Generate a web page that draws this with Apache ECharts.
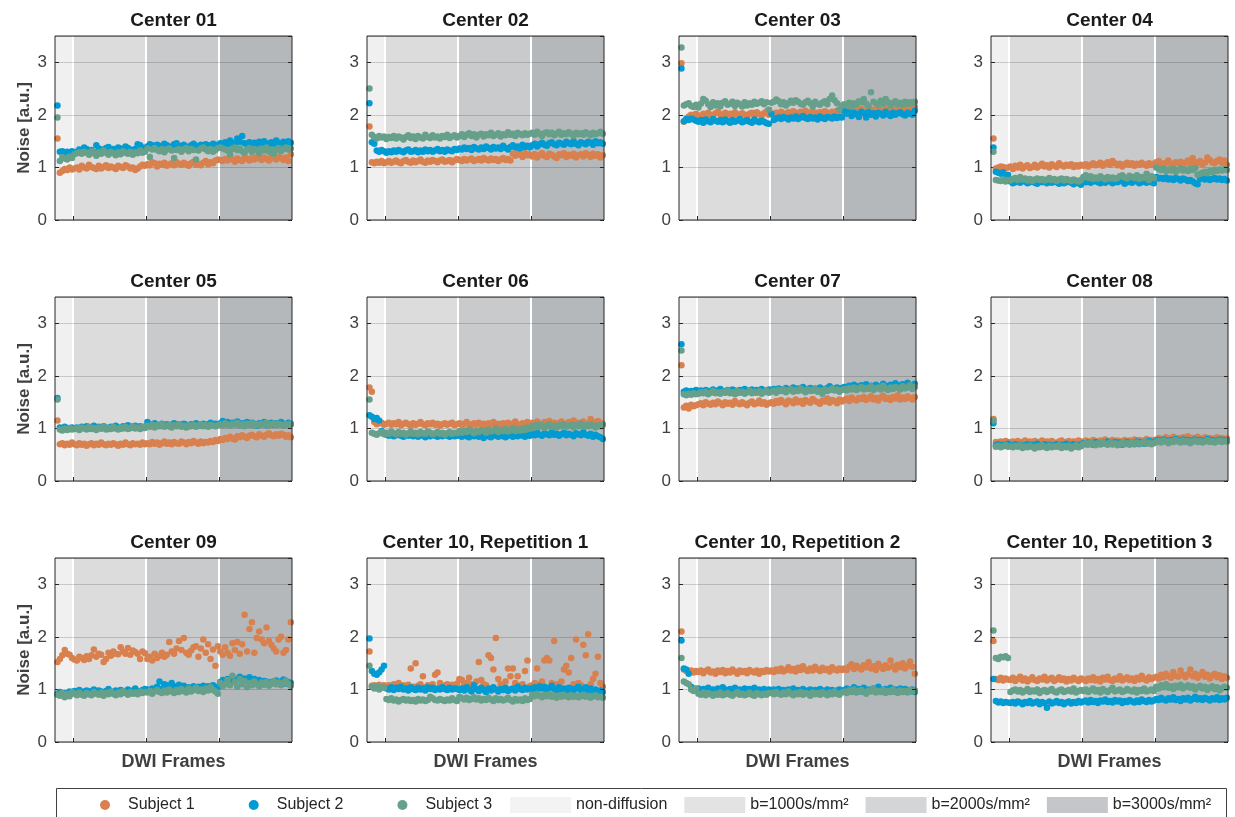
<!DOCTYPE html>
<html>
<head>
<meta charset="utf-8">
<script src="https://cdn.jsdelivr.net/npm/echarts@6/dist/echarts.min.js"></script>
<style>html,body{margin:0;padding:0;background:#fff;}#chart{width:1235px;height:817px;}</style>
</head>
<body>
<div id="chart"></div>
<script>
// ---------------- DATA ----------------
const panelTitles = ['Center 01','Center 02','Center 03','Center 04','Center 05','Center 06','Center 07','Center 08','Center 09','Center 10, Repetition 1','Center 10, Repetition 2','Center 10, Repetition 3'];
const subjects = ['Subject 1','Subject 2','Subject 3'];
const bandNames = ['non-diffusion','b=1000s/mm²','b=2000s/mm²','b=3000s/mm²'];
const bandEdges = [0, 7.5, 37.5, 67.5, 97.5];   // frame boundaries of the 4 acquisition blocks
const yTicks = [0, 1, 2, 3];
const xLabel = 'DWI Frames';
const yLabel = 'Noise [a.u.]';

// each series: 7 non-diffusion frames, then 30 frames for each b-value
// Center 01
const p01_s1 = [1.55,0.90,0.93,0.97,0.95,1.00,0.96,
 0.98,1.00,0.96,1.03,1.00,0.98,1.05,1.01,0.99,0.97, 1.03,0.98,1.01,1.04,0.99,1.02,1.00,0.97,1.03,1.01, 0.99,1.04,1.02,0.98,1.00,0.95,0.98,1.02,1.05,1.03,
 1.06,1.04,1.10,1.08,1.02,1.07,1.05,1.09,1.03,1.06, 1.08,1.04,1.10,1.07,1.05,1.09,1.06,1.03,1.08,1.11, 1.05,1.07,1.04,1.09,1.12,1.06,1.10,1.08,1.13,1.15,
 1.14,1.12,1.16,1.13,1.18,1.15,1.11,1.17,1.14,1.12, 1.19,1.16,1.13,1.18,1.15,1.20,1.17,1.14,1.19,1.16, 1.13,1.21,1.17,1.15,1.20,1.18,1.14,1.19,1.12,1.25];
const p01_s2 = [2.18,1.30,1.31,1.28,1.30,1.29,1.31,
 1.27,1.30,1.34,1.32,1.38,1.35,1.31,1.33,1.29,1.42, 1.36,1.34,1.31,1.37,1.39,1.33,1.35,1.30,1.38,1.36, 1.32,1.40,1.37,1.34,1.31,1.35,1.44,1.42,1.38,1.36,
 1.40,1.44,1.42,1.39,1.43,1.41,1.37,1.45,1.42,1.40, 1.38,1.44,1.46,1.41,1.39,1.43,1.40,1.37,1.42,1.45, 1.41,1.38,1.43,1.40,1.44,1.42,1.39,1.45,1.43,1.41,
 1.46,1.43,1.48,1.44,1.51,1.47,1.45,1.55,1.49,1.60, 1.46,1.44,1.48,1.43,1.47,1.45,1.49,1.44,1.50,1.46, 1.42,1.48,1.45,1.51,1.47,1.43,1.49,1.46,1.50,1.47];
const p01_s3 = [1.95,1.12,1.20,1.17,1.15,1.21,1.18,
 1.25,1.27,1.29,1.26,1.30,1.28,1.24,1.31,1.27,1.22, 1.29,1.26,1.32,1.28,1.24,1.30,1.27,1.23,1.29,1.25, 1.31,1.28,1.26,1.30,1.24,1.29,1.27,1.32,1.28,1.30,
 1.36,1.20,1.34,1.37,1.33,1.31,1.35,1.29,1.34,1.36, 1.32,1.18,1.33,1.35,1.30,1.34,1.37,1.31,1.35,1.33, 1.15,1.32,1.36,1.38,1.34,1.31,1.35,1.30,1.33,1.37,
 1.38,1.36,1.34,1.32,1.25,1.35,1.38,1.33,1.36,1.31, 1.28,1.34,1.37,1.30,1.35,1.33,1.27,1.36,1.32,1.38, 1.30,1.34,1.26,1.33,1.37,1.31,1.35,1.38,1.34,1.36];
// Center 02
const p02_s1 = [1.78,1.10,1.08,1.11,1.09,1.12,1.08,
 1.10,1.12,1.09,1.11,1.13,1.10,1.08,1.12,1.14,1.11, 1.09,1.13,1.10,1.12,1.15,1.11,1.09,1.13,1.11,1.14, 1.12,1.10,1.13,1.15,1.11,1.12,1.14,1.10,1.13,1.16,
 1.14,1.12,1.16,1.13,1.15,1.17,1.12,1.14,1.16,1.13, 1.18,1.15,1.13,1.17,1.14,1.16,1.12,1.15,1.18,1.14, 1.16,1.13,1.26,1.22,1.28,1.24,1.20,1.27,1.23,1.25,
 1.21,1.25,1.19,1.23,1.27,1.22,1.20,1.26,1.24,1.21, 1.18,1.25,1.23,1.27,1.20,1.24,1.22,1.26,1.19,1.23, 1.25,1.21,1.27,1.24,1.20,1.26,1.22,1.25,1.19,1.23];
const p02_s2 = [2.22,1.48,1.45,1.32,1.30,1.33,1.31,
 1.28,1.31,1.29,1.32,1.30,1.33,1.31,1.29,1.32,1.34, 1.30,1.31,1.33,1.29,1.32,1.30,1.34,1.31,1.33,1.30, 1.32,1.35,1.31,1.33,1.30,1.34,1.32,1.31,1.35,1.33,
 1.36,1.34,1.38,1.35,1.37,1.33,1.39,1.36,1.34,1.38, 1.35,1.40,1.37,1.34,1.39,1.36,1.38,1.35,1.41,1.37, 1.34,1.39,1.42,1.38,1.40,1.36,1.43,1.39,1.41,1.38,
 1.42,1.45,1.40,1.44,1.47,1.43,1.41,1.46,1.48,1.44, 1.42,1.47,1.45,1.43,1.49,1.46,1.44,1.50,1.45,1.42, 1.48,1.46,1.44,1.49,1.47,1.43,1.50,1.46,1.48,1.45];
const p02_s3 = [2.50,1.62,1.58,1.55,1.60,1.57,1.59,
 1.54,1.58,1.56,1.60,1.55,1.59,1.57,1.53,1.58,1.61, 1.56,1.59,1.54,1.60,1.57,1.55,1.62,1.58,1.56,1.61, 1.57,1.59,1.55,1.60,1.58,1.62,1.56,1.59,1.61,1.57,
 1.60,1.63,1.58,1.62,1.65,1.60,1.63,1.57,1.62,1.64, 1.59,1.63,1.61,1.66,1.60,1.62,1.65,1.59,1.63,1.61, 1.67,1.62,1.64,1.60,1.66,1.63,1.61,1.65,1.62,1.64,
 1.66,1.62,1.68,1.64,1.60,1.65,1.67,1.63,1.66,1.61, 1.64,1.68,1.62,1.65,1.63,1.67,1.64,1.60,1.66,1.63, 1.65,1.62,1.67,1.64,1.61,1.66,1.63,1.65,1.68,1.64];
// Center 03
const p03_s1 = [2.98,1.87,1.92,1.97,2.00,1.95,2.02,
 1.96,1.99,2.02,1.97,2.04,2.00,1.98,2.03,2.06,2.01, 1.98,2.04,2.00,2.02,1.97,2.05,2.01,1.99,2.03,2.00, 1.96,2.02,2.04,1.99,2.05,2.01,1.98,2.03,2.07,2.00,
 2.02,1.99,2.04,2.01,2.06,2.03,2.00,2.05,2.02,2.07, 2.04,2.01,2.06,2.03,2.08,2.05,2.02,2.06,2.04,2.01, 2.05,2.03,2.07,2.04,2.02,2.06,2.03,2.08,2.05,2.04,
 2.06,2.10,2.04,2.08,2.12,2.07,2.05,2.11,2.09,2.06, 2.13,2.08,2.10,2.07,2.12,2.05,2.09,2.11,2.07,2.04, 2.10,2.08,2.12,2.06,2.09,2.11,2.07,2.13,2.10,2.15];
const p03_s2 = [2.88,1.88,1.92,1.90,1.93,1.91,1.89,
 1.87,1.90,1.85,1.91,1.88,1.86,1.92,1.89,1.87,1.90, 1.86,1.91,1.88,1.85,1.90,1.87,1.89,1.92,1.86,1.88, 1.90,1.87,1.85,1.91,1.88,1.86,1.89,1.87,1.84,1.83,
 2.02,1.90,1.93,1.95,1.92,1.96,1.94,1.91,1.95,1.93, 1.97,1.92,1.95,1.98,1.94,1.92,1.96,1.93,1.95,1.91, 1.97,1.94,1.92,1.96,1.95,1.93,1.97,1.94,1.96,1.95,
 2.08,2.02,2.05,1.98,2.04,2.01,1.96,2.06,2.03,1.95, 2.05,2.00,2.03,1.97,2.04,2.02,1.99,2.06,2.01,1.98, 2.04,2.00,2.03,2.05,2.01,1.99,2.04,2.02,2.00,2.08];
const p03_s3 = [3.28,2.18,2.20,2.22,2.17,2.15,2.19,
 2.14,2.21,2.30,2.27,2.20,2.15,2.24,2.18,2.22,2.16, 2.23,2.26,2.19,2.21,2.25,2.17,2.23,2.20,2.16,2.24, 2.18,2.22,2.19,2.25,2.21,2.23,2.26,2.20,2.24,2.10,
 2.23,2.25,2.29,2.26,2.20,2.24,2.18,2.22,2.27,2.23, 2.28,2.25,2.21,2.19,2.24,2.27,2.22,2.16,2.25,2.21, 2.19,2.23,2.26,2.20,2.30,2.37,2.28,2.22,2.10,2.18,
 2.20,2.18,2.23,2.15,2.22,2.19,2.26,2.24,2.30,2.21, 2.17,2.43,2.25,2.22,2.19,2.27,2.21,2.30,2.24,2.18, 2.22,2.26,2.20,2.23,2.19,2.25,2.21,2.24,2.22,2.25];
// Center 04
const p04_s1 = [1.55,0.98,1.00,1.02,1.01,0.99,1.00,
 1.02,0.97,1.03,1.00,1.05,0.98,1.02,1.04,0.99,1.01, 1.05,1.00,1.03,1.07,1.02,1.04,1.00,1.06,1.03,1.01, 1.08,1.04,1.02,1.05,1.03,1.06,1.01,1.04,1.02,1.05,
 1.03,1.06,1.02,1.05,1.08,1.04,1.06,1.09,1.03,1.07, 1.10,1.05,1.12,1.08,1.04,1.07,1.02,1.06,1.09,1.05, 1.08,1.03,1.07,1.05,1.09,1.06,1.03,1.08,1.05,1.07,
 1.10,1.12,1.08,1.06,1.09,1.13,1.07,1.05,1.10,1.08, 1.11,1.06,1.09,1.13,1.07,1.18,1.10,1.08,1.12,1.06, 1.09,1.19,1.14,1.10,1.08,1.12,1.15,1.09,1.13,1.05];
const p04_s2 = [1.38,0.92,0.90,0.88,0.91,0.85,0.86,
 0.73,0.70,0.72,0.74,0.71,0.75,0.73,0.70,0.72,0.74, 0.71,0.69,0.73,0.72,0.75,0.70,0.73,0.71,0.74,0.72, 0.69,0.73,0.70,0.72,0.74,0.71,0.68,0.72,0.70,0.67,
 0.74,0.72,0.75,0.71,0.73,0.76,0.72,0.70,0.74,0.71, 0.75,0.73,0.70,0.74,0.72,0.76,0.73,0.69,0.72,0.74, 0.71,0.75,0.73,0.70,0.72,0.74,0.71,0.73,0.72,0.70,
 0.82,0.79,0.80,0.78,0.81,0.77,0.79,0.76,0.80,0.78, 0.75,0.79,0.77,0.74,0.76,0.73,0.70,0.68,0.78,0.80, 0.77,0.79,0.76,0.78,0.80,0.77,0.79,0.76,0.78,0.75];
const p04_s3 = [1.30,0.76,0.75,0.74,0.77,0.73,0.76,
 0.75,0.78,0.80,0.76,0.82,0.77,0.79,0.75,0.78,0.74, 0.77,0.79,0.76,0.78,0.75,0.77,0.80,0.76,0.78,0.74, 0.77,0.79,0.75,0.78,0.76,0.74,0.77,0.75,0.73,0.76,
 0.82,0.85,0.80,0.83,0.78,0.81,0.79,0.83,0.80,0.77, 0.82,0.79,0.81,0.78,0.80,0.83,0.85,0.81,0.79,0.84, 0.82,0.80,0.85,0.78,0.82,0.80,0.88,0.76,0.83,0.80,
 1.00,0.97,0.95,0.98,0.93,0.96,0.94,0.97,0.92,0.95, 0.98,0.94,0.96,0.93,0.97,0.95,0.99,0.86,0.88,0.90, 0.92,0.89,0.93,0.91,0.95,0.93,0.96,0.94,0.97,0.95];
// Center 05
const p05_s1 = [1.15,0.70,0.72,0.68,0.71,0.69,0.73,
 0.70,0.68,0.72,0.69,0.71,0.67,0.70,0.72,0.68,0.71, 0.69,0.73,0.70,0.68,0.71,0.69,0.72,0.70,0.67,0.71, 0.69,0.73,0.70,0.68,0.72,0.70,0.71,0.69,0.73,0.70,
 0.72,0.70,0.74,0.71,0.73,0.69,0.72,0.75,0.71,0.73, 0.70,0.74,0.72,0.71,0.75,0.73,0.70,0.74,0.72,0.76, 0.73,0.71,0.75,0.72,0.74,0.73,0.76,0.74,0.78,0.76,
 0.80,0.78,0.82,0.80,0.84,0.81,0.79,0.85,0.83,0.87, 0.84,0.82,0.86,0.88,0.85,0.83,0.89,0.86,0.84,0.88, 0.91,0.87,0.85,0.89,0.86,0.90,0.88,0.84,0.87,0.83];
const p05_s2 = [1.58,1.02,1.00,1.03,1.01,0.99,1.02,
 1.00,1.02,0.99,1.03,1.01,1.04,1.00,1.02,1.05,1.01, 1.03,1.00,1.04,1.02,0.99,1.03,1.01,1.05,1.02,1.00, 1.04,1.02,1.06,1.01,1.03,1.05,1.02,1.04,1.01,1.03,
 1.12,1.08,1.06,1.10,1.07,1.05,1.09,1.06,1.08,1.04, 1.07,1.10,1.06,1.08,1.05,1.09,1.07,1.04,1.08,1.06, 1.10,1.07,1.05,1.09,1.06,1.08,1.11,1.07,1.09,1.06,
 1.10,1.14,1.08,1.12,1.07,1.11,1.09,1.13,1.06,1.10, 1.08,1.12,1.07,1.11,1.09,1.05,1.10,1.08,1.12,1.06, 1.09,1.11,1.07,1.10,1.08,1.12,1.06,1.09,1.11,1.08];
const p05_s3 = [1.55,0.98,0.96,1.00,0.97,1.01,0.98,
 0.99,1.01,0.97,1.02,1.00,0.98,1.03,0.99,1.01,0.97, 1.02,1.00,1.04,0.98,1.01,0.99,1.03,1.00,0.98,1.02, 1.00,1.03,0.99,1.01,1.04,1.00,1.02,0.99,1.03,1.01,
 1.05,1.03,1.07,1.02,1.06,1.04,1.08,1.03,1.05,1.07, 1.02,1.06,1.04,1.08,1.03,1.05,1.02,1.06,1.04,1.07, 1.03,1.05,1.08,1.04,1.06,1.03,1.07,1.05,1.04,1.06,
 1.08,1.06,1.10,1.07,1.05,1.09,1.07,1.11,1.06,1.08, 1.04,1.09,1.07,1.10,1.05,1.08,1.06,1.09,1.07,1.11, 1.05,1.08,1.10,1.06,1.09,1.07,1.05,1.08,1.06,1.09];
// Center 06
const p06_s1 = [1.78,1.70,1.12,1.08,1.10,1.11,1.07,
 1.09,1.11,1.07,1.10,1.08,1.12,1.06,1.09,1.11,1.08, 1.05,1.10,1.07,1.09,1.12,1.08,1.06,1.10,1.08,1.11, 1.07,1.09,1.05,1.08,1.10,1.07,1.09,1.11,1.06,1.08,
 1.10,1.07,1.09,1.12,1.08,1.06,1.10,1.08,1.11,1.07, 1.09,1.05,1.10,1.08,1.12,1.07,1.09,1.06,1.10,1.08, 1.11,1.07,1.09,1.13,1.08,1.06,1.10,1.08,1.12,1.09,
 1.11,1.08,1.13,1.09,1.07,1.12,1.10,1.14,1.08,1.11, 1.06,1.10,1.13,1.09,1.07,1.12,1.10,1.15,1.08,1.11, 1.09,1.13,1.07,1.10,1.18,1.12,1.09,1.14,1.11,1.08];
const p06_s2 = [1.25,1.22,1.18,1.20,1.15,0.95,0.92,
 0.88,0.86,0.89,0.85,0.87,0.90,0.86,0.84,0.88,0.86, 0.89,0.85,0.87,0.84,0.88,0.86,0.83,0.87,0.85,0.88, 0.86,0.84,0.87,0.85,0.89,0.86,0.84,0.87,0.85,0.86,
 0.87,0.84,0.88,0.85,0.83,0.87,0.85,0.88,0.84,0.86, 0.82,0.87,0.85,0.83,0.88,0.86,0.84,0.87,0.85,0.83, 0.86,0.88,0.84,0.87,0.85,0.89,0.86,0.84,0.88,0.86,
 0.90,0.87,0.92,0.88,0.86,0.91,0.89,0.87,0.93,0.88, 0.90,0.86,0.89,0.92,0.87,0.90,0.88,0.85,0.91,0.89, 0.87,0.93,0.88,0.86,0.90,0.84,0.88,0.85,0.83,0.80];
const p06_s3 = [1.55,0.92,0.90,0.88,0.91,0.93,0.89,
 0.92,0.90,0.94,0.91,0.89,0.93,0.90,0.92,0.88,0.91, 0.94,0.90,0.92,0.89,0.93,0.91,0.90,0.94,0.92,0.89, 0.91,0.93,0.90,0.92,0.88,0.91,0.93,0.90,0.92,0.91,
 0.95,0.92,0.96,0.93,0.98,0.94,0.91,0.96,0.93,0.97, 0.95,0.92,0.98,0.94,0.96,1.00,0.93,0.97,0.95,0.99, 0.94,0.96,1.01,0.95,0.98,0.96,1.00,0.97,1.02,0.99,
 1.05,1.02,1.07,1.03,1.06,1.01,1.04,1.08,1.03,1.05, 1.02,1.06,1.04,1.08,1.03,1.05,1.07,1.02,1.06,1.04, 1.09,1.03,1.06,1.04,1.08,1.05,1.02,1.06,1.04,1.07];
// Center 07
const p07_s1 = [2.20,1.40,1.43,1.38,1.45,1.42,1.44,
 1.46,1.48,1.44,1.50,1.47,1.45,1.49,1.46,1.51,1.48, 1.44,1.50,1.47,1.49,1.45,1.52,1.48,1.46,1.50,1.47, 1.44,1.49,1.51,1.46,1.48,1.53,1.47,1.50,1.45,1.48,
 1.50,1.47,1.52,1.49,1.54,1.50,1.46,1.53,1.51,1.48, 1.55,1.50,1.52,1.47,1.54,1.51,1.49,1.56,1.52,1.50, 1.47,1.53,1.51,1.57,1.49,1.54,1.52,1.48,1.55,1.51,
 1.54,1.57,1.52,1.59,1.55,1.53,1.58,1.56,1.60,1.54, 1.57,1.61,1.55,1.58,1.53,1.59,1.62,1.56,1.58,1.54, 1.60,1.57,1.63,1.55,1.59,1.56,1.61,1.58,1.55,1.60];
const p07_s2 = [2.60,1.70,1.72,1.68,1.71,1.69,1.73,
 1.70,1.72,1.68,1.73,1.71,1.69,1.74,1.70,1.72,1.75, 1.71,1.69,1.73,1.70,1.74,1.72,1.68,1.73,1.71,1.75, 1.70,1.72,1.74,1.69,1.73,1.71,1.75,1.72,1.70,1.74,
 1.73,1.75,1.71,1.76,1.74,1.72,1.77,1.73,1.75,1.78, 1.72,1.76,1.74,1.79,1.73,1.75,1.77,1.72,1.76,1.74, 1.78,1.75,1.73,1.77,1.80,1.74,1.76,1.78,1.75,1.77,
 1.79,1.76,1.81,1.78,1.83,1.77,1.80,1.82,1.78,1.84, 1.79,1.81,1.77,1.83,1.80,1.78,1.85,1.81,1.79,1.83, 1.80,1.86,1.82,1.79,1.84,1.81,1.87,1.83,1.80,1.85];
const p07_s3 = [2.48,1.65,1.63,1.66,1.64,1.67,1.65,
 1.66,1.69,1.67,1.70,1.65,1.68,1.71,1.67,1.69,1.66, 1.70,1.68,1.72,1.67,1.69,1.65,1.71,1.68,1.70,1.66, 1.69,1.72,1.67,1.70,1.68,1.71,1.66,1.69,1.72,1.68,
 1.70,1.72,1.68,1.73,1.71,1.74,1.69,1.72,1.75,1.70, 1.73,1.71,1.76,1.72,1.69,1.74,1.71,1.73,1.75,1.70, 1.72,1.66,1.74,1.71,1.73,1.76,1.72,1.74,1.70,1.73,
 1.75,1.72,1.77,1.74,1.78,1.73,1.76,1.79,1.74,1.77, 1.75,1.80,1.73,1.76,1.78,1.74,1.81,1.76,1.73,1.78, 1.75,1.79,1.77,1.74,1.80,1.76,1.78,1.82,1.75,1.79];
// Center 08
const p08_s1 = [1.18,0.74,0.72,0.75,0.73,0.76,0.74,
 0.72,0.75,0.73,0.76,0.71,0.74,0.77,0.73,0.75,0.72, 0.76,0.74,0.73,0.77,0.72,0.75,0.74,0.76,0.73,0.71, 0.75,0.77,0.74,0.72,0.76,0.73,0.75,0.74,0.77,0.75,
 0.74,0.77,0.75,0.73,0.78,0.76,0.74,0.77,0.75,0.79, 0.76,0.74,0.78,0.75,0.77,0.73,0.76,0.78,0.75,0.77, 0.74,0.79,0.76,0.78,0.75,0.77,0.80,0.76,0.78,0.77,
 0.79,0.82,0.80,0.78,0.83,0.81,0.79,0.84,0.80,0.82, 0.78,0.83,0.81,0.85,0.79,0.82,0.80,0.84,0.81,0.79, 0.83,0.80,0.82,0.78,0.81,0.83,0.79,0.82,0.80,0.81];
const p08_s2 = [1.10,0.68,0.70,0.66,0.69,0.67,0.71,
 0.68,0.66,0.70,0.67,0.69,0.65,0.68,0.70,0.66,0.69, 0.67,0.71,0.68,0.66,0.70,0.67,0.69,0.65,0.68,0.70, 0.67,0.69,0.66,0.71,0.68,0.67,0.70,0.66,0.69,0.68,
 0.72,0.70,0.73,0.71,0.69,0.74,0.72,0.70,0.73,0.71, 0.75,0.72,0.70,0.74,0.71,0.73,0.69,0.72,0.74,0.71, 0.73,0.70,0.75,0.72,0.74,0.71,0.73,0.76,0.72,0.74,
 0.76,0.78,0.75,0.79,0.77,0.74,0.78,0.76,0.80,0.77, 0.75,0.79,0.76,0.78,0.74,0.77,0.79,0.76,0.78,0.75, 0.77,0.80,0.76,0.78,0.75,0.77,0.79,0.76,0.78,0.76];
const p08_s3 = [1.15,0.65,0.67,0.64,0.66,0.68,0.65,
 0.66,0.64,0.67,0.65,0.68,0.63,0.66,0.64,0.67,0.65, 0.62,0.66,0.64,0.68,0.65,0.63,0.67,0.64,0.66,0.65, 0.68,0.63,0.66,0.64,0.67,0.62,0.65,0.68,0.64,0.66,
 0.70,0.72,0.69,0.73,0.71,0.68,0.72,0.70,0.74,0.71, 0.69,0.73,0.70,0.72,0.68,0.71,0.73,0.70,0.72,0.69, 0.74,0.71,0.73,0.70,0.72,0.75,0.71,0.73,0.70,0.72,
 0.74,0.76,0.73,0.77,0.75,0.72,0.76,0.74,0.78,0.75, 0.73,0.77,0.74,0.76,0.72,0.75,0.77,0.74,0.76,0.73, 0.75,0.78,0.74,0.76,0.73,0.75,0.77,0.74,0.76,0.75];
// Center 09
const p09_s1 = [1.52,1.58,1.65,1.75,1.68,1.66,1.60,
 1.57,1.55,1.62,1.60,1.56,1.63,1.58,1.65,1.76,1.62, 1.68,1.66,1.52,1.58,1.70,1.64,1.72,1.68,1.67,1.80, 1.72,1.68,1.79,1.66,1.74,1.71,1.68,1.58,1.72,1.69,
 1.58,1.62,1.55,1.68,1.60,1.64,1.70,1.62,1.66,1.90, 1.72,1.68,1.78,1.92,1.75,1.98,1.70,1.66,1.74,1.80, 1.82,1.62,1.78,1.95,1.70,1.86,1.58,1.76,1.45,1.82,
 1.72,1.66,1.80,1.70,1.64,1.88,1.75,1.90,1.68,1.86, 2.42,1.72,2.15,2.28,1.70,1.98,2.10,1.95,1.88,2.18, 1.92,1.85,1.78,1.72,1.95,2.00,1.70,1.75,1.95,2.28];
const p09_s2 = [0.92,0.95,0.90,0.93,0.88,0.96,0.94,
 0.97,0.95,0.99,0.93,0.96,0.98,0.94,0.97,1.00,0.95, 0.98,0.96,0.93,0.97,1.01,0.96,0.94,0.98,0.95,0.99, 0.97,0.94,1.00,0.96,0.98,1.02,0.97,0.95,0.99,1.01,
 1.00,0.97,1.02,0.99,1.05,1.15,1.01,1.10,1.08,1.04, 1.12,1.06,1.02,1.09,1.05,1.07,1.00,1.04,1.02,1.06, 1.01,1.05,1.03,1.07,1.02,1.06,1.04,1.08,1.05,1.03,
 1.14,1.18,1.12,1.20,1.16,1.22,1.15,1.19,1.24,1.17, 1.21,1.18,1.23,1.16,1.20,1.14,1.18,1.12,1.16,1.15, 1.10,1.14,1.12,1.17,1.13,1.15,1.19,1.11,1.14,1.12];
const p09_s3 = [0.90,0.88,0.93,0.85,0.91,0.87,0.95,
 0.92,0.89,0.94,0.90,0.88,0.93,0.91,0.89,0.95,0.92, 0.90,0.94,0.88,0.93,0.91,0.96,0.92,0.89,0.94,0.91, 0.97,0.93,0.90,0.95,0.92,0.94,0.91,0.96,0.93,0.95,
 0.94,0.97,0.92,0.96,0.99,0.95,0.93,0.98,0.94,1.00, 0.96,0.93,0.99,0.95,1.01,0.97,0.94,1.02,0.96,0.99, 1.03,0.97,1.00,0.95,1.02,0.98,1.04,0.99,0.96,0.92,
 1.12,1.06,1.10,1.18,1.08,1.26,1.14,1.05,1.20,1.10, 1.16,1.04,1.12,1.08,1.15,1.10,1.06,1.13,1.09,1.14, 1.07,1.11,1.16,1.10,1.13,1.08,1.12,1.17,1.10,1.07];
// Center 10, Repetition 1
const p10_s1 = [1.72,1.07,1.08,1.05,1.09,1.06,1.08,
 1.05,1.08,1.03,1.10,1.06,1.12,1.04,1.08,1.06,1.09, 1.40,1.05,1.50,1.07,1.10,1.25,1.04,1.08,1.06,1.10, 1.28,1.32,1.12,1.05,1.08,1.10,1.06,1.09,1.07,1.11,
 1.20,1.18,1.08,1.12,1.22,1.10,1.05,1.15,1.52,1.18, 1.10,1.08,1.65,1.60,1.38,1.98,1.20,1.10,1.05,1.15, 1.40,1.25,1.40,1.12,1.25,1.08,1.10,1.35,1.55,1.06,
 1.08,1.12,1.40,1.10,1.15,1.55,1.60,1.55,1.12,1.92, 1.10,1.08,1.15,1.38,1.45,1.32,1.60,1.10,1.95,1.12, 1.08,1.85,1.65,2.05,1.10,1.20,1.30,1.62,1.12,1.05];
const p10_s2 = [1.97,1.35,1.30,1.28,1.32,1.38,1.45,
 1.02,1.00,1.04,0.99,1.03,1.01,1.05,1.00,1.02,0.98, 1.04,1.01,0.99,1.03,1.00,1.02,0.98,1.04,1.01,1.03, 0.99,1.02,1.00,1.04,1.01,0.99,1.03,1.00,1.02,1.01,
 0.99,1.02,0.98,1.04,1.00,0.96,1.08,1.01,0.97,1.03, 0.99,0.95,1.02,0.98,1.04,1.00,0.96,1.01,0.99,1.03, 0.97,1.00,1.02,0.98,1.05,1.01,0.99,1.03,1.00,1.02,
 1.01,1.04,1.00,1.06,1.02,1.05,0.99,1.03,1.07,1.01, 0.98,1.04,1.00,1.02,0.97,1.03,1.01,0.99,1.02,1.05, 0.98,1.01,1.04,0.99,1.02,0.97,1.00,0.96,0.98,0.95];
const p10_s3 = [1.45,1.05,1.02,1.06,1.00,1.04,1.03,
 0.82,0.80,0.83,0.79,0.81,0.77,0.80,0.82,0.79,0.81, 0.78,0.80,0.77,0.82,0.79,0.81,0.78,0.80,0.86,0.83, 0.80,0.79,0.82,0.80,0.78,0.81,0.79,0.83,0.80,0.78,
 0.86,0.83,0.81,0.84,0.80,0.82,0.85,0.81,0.83,0.79, 0.82,0.80,0.84,0.81,0.78,0.83,0.80,0.82,0.79,0.81, 0.84,0.80,0.77,0.82,0.79,0.81,0.78,0.83,0.80,0.82,
 0.90,0.87,0.92,0.88,0.85,0.90,0.87,0.91,0.86,0.89, 0.84,0.88,0.86,0.90,0.87,0.85,0.89,0.86,0.88,0.85, 0.87,0.90,0.86,0.88,0.84,0.87,0.89,0.85,0.86,0.84];
// Center 10, Repetition 2
const p11_s1 = [2.10,1.38,1.35,1.33,1.36,1.32,1.35,
 1.33,1.36,1.31,1.35,1.38,1.32,1.34,1.30,1.36,1.33, 1.37,1.31,1.35,1.32,1.38,1.34,1.30,1.36,1.33,1.35, 1.31,1.37,1.34,1.32,1.36,1.30,1.35,1.33,1.37,1.34,
 1.36,1.33,1.38,1.35,1.40,1.34,1.37,1.42,1.36,1.39, 1.34,1.41,1.37,1.44,1.38,1.35,1.40,1.36,1.43,1.38, 1.35,1.41,1.37,1.39,1.34,1.42,1.38,1.36,1.40,1.37,
 1.40,1.37,1.43,1.48,1.39,1.45,1.41,1.38,1.46,1.42, 1.52,1.40,1.44,1.37,1.49,1.43,1.39,1.46,1.41,1.55, 1.44,1.38,1.47,1.42,1.50,1.40,1.45,1.53,1.43,1.30];
const p11_s2 = [1.93,1.40,1.38,1.30,1.05,1.02,1.00,
 1.02,0.98,1.01,0.97,1.03,0.99,1.00,0.96,1.02,0.98, 1.04,1.00,0.97,1.01,0.99,1.03,0.98,1.00,0.96,1.02, 0.99,1.01,0.97,1.03,0.98,1.00,0.96,1.01,0.98,1.00,
 0.98,1.00,0.96,1.01,0.97,0.99,0.95,1.00,0.98,1.02, 0.96,0.99,0.97,1.01,0.95,0.98,1.00,0.96,0.99,0.97, 1.01,0.98,0.96,1.00,0.97,0.99,0.95,0.98,1.00,0.97,
 0.99,1.02,0.97,1.00,1.04,0.98,1.01,0.96,1.03,0.99, 1.00,0.97,1.02,0.98,1.05,1.00,0.97,1.01,0.99,1.03, 0.96,1.00,0.98,1.02,0.97,1.01,0.99,0.96,1.00,0.95];
const p11_s3 = [1.60,1.15,1.12,1.10,1.00,0.97,1.02,
 0.92,0.90,0.94,0.89,0.93,0.91,0.88,0.92,0.90,0.94, 0.89,0.91,0.93,0.90,0.88,0.92,0.95,0.90,0.92,0.89, 0.91,0.94,0.90,0.88,0.93,0.91,0.89,0.92,0.90,0.93,
 0.93,0.91,0.95,0.92,0.90,0.94,0.91,0.96,0.92,0.89, 0.93,0.91,0.95,0.90,0.93,0.92,0.88,0.94,0.91,0.93, 0.90,0.95,0.92,0.89,0.94,0.91,0.96,0.92,0.90,0.94,
 0.96,0.93,0.98,0.95,1.00,0.94,0.97,0.99,0.95,0.92, 0.98,0.96,1.01,0.94,0.97,0.95,0.99,0.93,0.97,0.95, 1.00,0.96,0.93,0.98,0.95,0.97,0.94,0.99,0.96,0.98];
// Center 10, Repetition 3
const p12_s1 = [1.92,1.20,1.18,1.22,1.17,1.21,1.19,
 1.18,1.22,1.16,1.20,1.24,1.17,1.21,1.15,1.19,1.23, 1.18,1.16,1.21,1.19,1.24,1.17,1.20,1.22,1.16,1.19, 1.23,1.18,1.21,1.15,1.20,1.17,1.22,1.19,1.16,1.21,
 1.19,1.16,1.21,1.18,1.23,1.17,1.20,1.15,1.22,1.19, 1.24,1.18,1.16,1.21,1.19,1.25,1.17,1.20,1.23,1.18, 1.21,1.16,1.22,1.19,1.26,1.20,1.17,1.23,1.20,1.22,
 1.24,1.21,1.28,1.23,1.30,1.25,1.22,1.33,1.26,1.24, 1.36,1.27,1.23,1.29,1.38,1.25,1.30,1.22,1.27,1.33, 1.24,1.28,1.21,1.26,1.30,1.23,1.27,1.20,1.25,1.22];
const p12_s2 = [1.20,0.78,0.75,0.77,0.74,0.76,0.75,
 0.74,0.76,0.73,0.77,0.75,0.72,0.76,0.74,0.78,0.73, 0.75,0.77,0.72,0.76,0.74,0.65,0.77,0.73,0.75,0.78, 0.74,0.76,0.72,0.75,0.77,0.73,0.76,0.74,0.78,0.75,
 0.77,0.79,0.75,0.80,0.76,0.78,0.74,0.79,0.77,0.81, 0.76,0.78,0.75,0.80,0.77,0.79,0.74,0.78,0.76,0.80, 0.77,0.75,0.79,0.76,0.81,0.78,0.76,0.80,0.77,0.79,
 0.82,0.80,0.84,0.81,0.79,0.83,0.81,0.85,0.80,0.82, 0.78,0.83,0.81,0.84,0.79,0.82,0.86,0.81,0.83,0.80, 0.84,0.82,0.79,0.83,0.81,0.85,0.80,0.83,0.81,0.84];
const p12_s3 = [2.12,1.60,1.58,1.62,1.61,1.63,1.60,
 0.95,0.98,1.00,0.96,0.99,0.94,0.97,1.01,0.95,0.98, 0.96,1.00,0.93,0.97,0.99,0.95,0.98,1.01,0.96,0.94, 0.98,1.00,0.95,0.97,0.99,0.96,1.02,0.94,0.97,0.99,
 0.97,1.00,0.95,0.98,1.02,0.96,0.99,0.94,1.01,0.97, 0.95,0.99,1.03,0.96,0.98,1.00,0.95,0.97,1.01,0.98, 0.96,1.00,0.94,0.99,0.97,1.02,0.96,0.98,1.00,0.97,
 1.05,1.02,1.08,1.04,1.10,1.03,1.06,1.01,1.07,1.04, 1.09,1.02,1.05,1.08,1.03,1.06,1.00,1.04,1.07,1.02, 1.05,0.99,1.03,1.06,1.01,1.04,0.98,1.02,1.05,1.03];

const panelSeries = [
  [p01_s1,p01_s2,p01_s3],[p02_s1,p02_s2,p02_s3],[p03_s1,p03_s2,p03_s3],[p04_s1,p04_s2,p04_s3],
  [p05_s1,p05_s2,p05_s3],[p06_s1,p06_s2,p06_s3],[p07_s1,p07_s2,p07_s3],[p08_s1,p08_s2,p08_s3],
  [p09_s1,p09_s2,p09_s3],[p10_s1,p10_s2,p10_s3],[p11_s1,p11_s2,p11_s3],[p12_s1,p12_s2,p12_s3]
];

// ---------------- STYLE / LAYOUT ----------------
const FONT = 'Liberation Sans, Arial, Helvetica, sans-serif';
const subjectColors = ['#D9804F', '#009BD2', '#66A08A'];
const bandColors = ['#F0F0F0', '#DCDCDC', '#C9CACC', '#B5B8BB'];
const colLeft = [55, 367, 679, 991];
const rowTop = [36, 297, 558];
const GW = 237, GH = 184;
const AX = '#262626';

const grid = [], xAxis = [], yAxis = [], series = [], title = [];
const bad = [];

panelSeries.forEach((trio, i) => {
  const col = i % 4, row = Math.floor(i / 4);
  const L = colLeft[col], T = rowTop[row];
  grid.push({left: L, top: T, width: GW, height: GH, show: true, z: 10,
    backgroundColor: 'rgba(0,0,0,0)', borderColor: AX, borderWidth: 1});
  title.push({text: panelTitles[i], left: L + GW / 2, top: T - 25, textAlign: 'center', padding: 0,
    textStyle: {fontFamily: FONT, fontSize: 19, fontWeight: 'bold', color: '#1a1a1a'}});
  xAxis.push({gridIndex: i, type: 'value', min: bandEdges[0], max: bandEdges[4],
    axisLine: {show: false}, axisLabel: {show: false}, splitLine: {show: false},
    axisTick: {show: true, inside: true, length: 4, customValues: bandEdges.slice(1, 4), lineStyle: {color: AX}},
    name: row === 2 ? xLabel : '', nameLocation: 'middle', nameGap: 11,
    nameTextStyle: {fontFamily: FONT, fontSize: 18, fontWeight: 'bold', color: '#404040'}, z: 11});
  yAxis.push({gridIndex: i, type: 'value', min: 0, max: 3.5, interval: 1, position: 'left',
    axisLine: {show: false},
    axisTick: {show: true, inside: true, length: 4, lineStyle: {color: AX}},
    axisLabel: {show: true, margin: 8, fontFamily: FONT, fontSize: 17, color: '#404040', showMaxLabel: false,
      formatter: v => (yTicks.indexOf(v) >= 0 ? String(v) : '')},
    splitLine: {show: true, lineStyle: {color: 'rgba(38,38,38,0.2)', width: 1}},
    name: col === 0 ? yLabel : '', nameLocation: 'middle', nameGap: 22,
    nameTextStyle: {fontFamily: FONT, fontSize: 17, fontWeight: 'bold', color: '#404040'}, z: 3});
  yAxis.push({gridIndex: i, type: 'value', min: 0, max: 3.5, interval: 1, position: 'right',
    axisLine: {show: false}, axisLabel: {show: false}, splitLine: {show: false},
    axisTick: {show: true, inside: true, length: 4, lineStyle: {color: AX}}, z: 11});

  // shaded acquisition blocks
  for (let b = 0; b < 4; b++) {
    series.push({type: 'scatter', name: bandNames[b], xAxisIndex: i, yAxisIndex: 2 * i, data: [],
      itemStyle: {color: bandColors[b]}, silent: true, z: 1,
      markArea: {silent: true, itemStyle: {color: bandColors[b], borderWidth: 0},
        data: [[{xAxis: bandEdges[b]}, {xAxis: bandEdges[b + 1]}]]}});
  }
  // white separators
  series.push({type: 'scatter', name: '_sep', xAxisIndex: i, yAxisIndex: 2 * i, data: [], silent: true, z: 2,
    markLine: {silent: true, z: 2, symbol: ['none', 'none'], label: {show: false},
      lineStyle: {color: '#ffffff', width: 2, type: 'solid'},
      data: bandEdges.slice(1, 4).map(v => ({xAxis: v}))}});
  // subjects
  trio.forEach((vals, s) => {
    if (vals.length !== 97) bad.push(panelTitles[i] + ' s' + (s + 1) + ':' + vals.length);
    series.push({type: 'scatter', name: subjects[s], xAxisIndex: i, yAxisIndex: 2 * i,
      data: vals.map((v, k) => [k + 1, v]),
      symbol: 'circle', symbolSize: 6.5, itemStyle: {color: subjectColors[s], opacity: 1},
      emphasis: {disabled: true}, z: 6});
  });
});

const graphic = [{type: 'rect', shape: {x: 56.5, y: 788.5, width: 1170, height: 60},
  style: {fill: 'none', stroke: '#404040', lineWidth: 1}, silent: true}];
if (bad.length) graphic.push({type: 'text', left: 5, top: 2, style: {text: bad.join(' | '), fill: 'red', font: '12px sans-serif'}, z: 100});

const chart = echarts.init(document.getElementById('chart'), null, {renderer: 'canvas'});
chart.setOption({
  animation: false,
  backgroundColor: '#ffffff',
  textStyle: {fontFamily: FONT},
  title, grid, xAxis, yAxis, series, graphic,
  legend: [
    {data: subjects, left: 100, top: 797, padding: 0, itemWidth: 36, itemHeight: 10, itemGap: 54,
      icon: 'circle', selectedMode: false,
      textStyle: {fontFamily: FONT, fontSize: 16, color: AX}},
    {data: bandNames, left: 510, top: 797, padding: 0, itemWidth: 61, itemHeight: 16, itemGap: 17,
      icon: 'rect', selectedMode: false,
      textStyle: {fontFamily: FONT, fontSize: 16, color: AX}}
  ]
});
</script>
</body>
</html>
